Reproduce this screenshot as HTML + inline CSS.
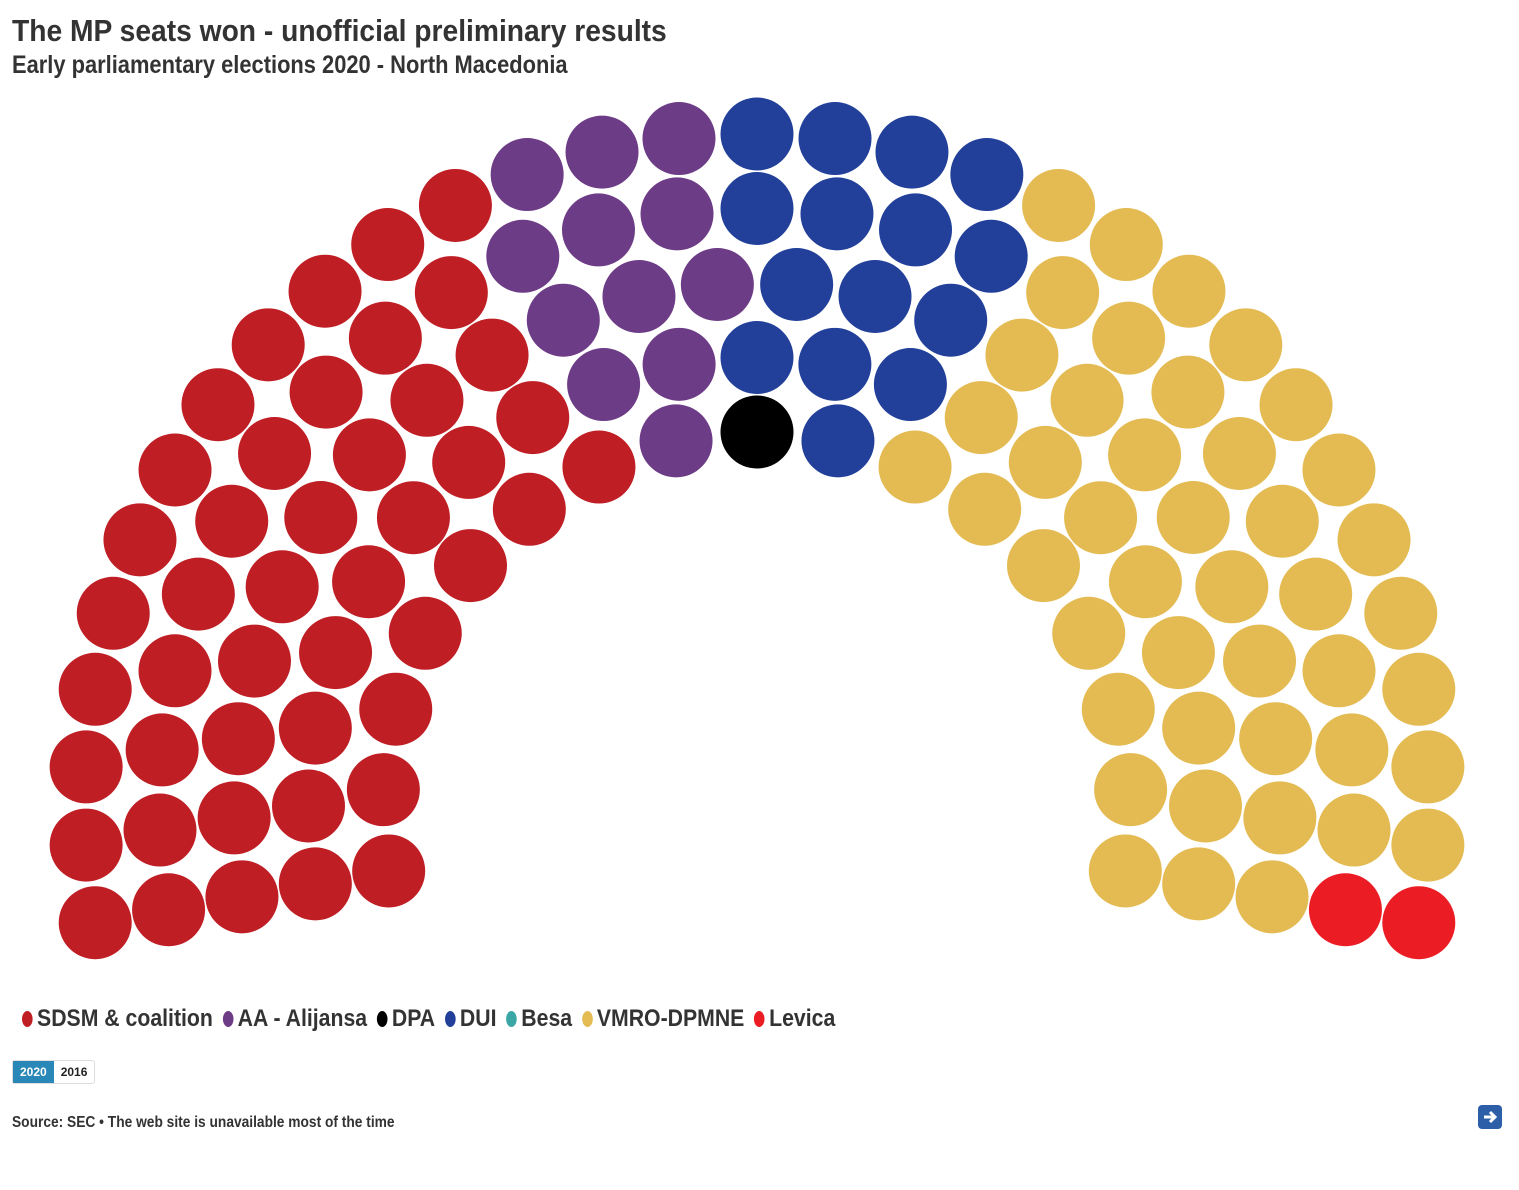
<!DOCTYPE html>
<html><head><meta charset="utf-8"><style>
body{margin:0;width:1519px;height:1190px;background:#fff;font-family:"Liberation Sans",sans-serif;color:#333;position:relative;overflow:hidden}
.n{position:absolute;white-space:nowrap;transform-origin:0 0;font-weight:bold}
.t{left:12px;top:13px;font-size:31px;transform:scaleX(0.91)}
.s{left:12px;top:51px;font-size:25px;transform:scaleX(0.875)}
.lg{left:22px;top:1005px;font-size:24px;display:flex;transform:scaleX(0.885)}
.lg span{margin-right:11px;display:flex;align-items:center}
.lg i{display:inline-block;width:12px;height:16px;border-radius:50%;margin-right:5px}
.btns{position:absolute;left:12px;top:1060px;display:flex;border:1px solid #ddd;border-radius:3px;font-size:12px;font-weight:bold}
.btns div{padding:4px 7px}
.src{left:12px;top:1114px;font-size:16px;transform:scaleX(0.86)}
</style></head><body>
<div class="n t">The MP seats won - unofficial preliminary results</div>
<div class="n s">Early parliamentary elections 2020 - North Macedonia</div>
<svg id="ch" width="1519" height="1190" style="position:absolute;left:0;top:0"></svg>
<div class="n lg">
<span><i style="background:#bf1e24"></i>SDSM &amp; coalition</span>
<span><i style="background:#6d3c86"></i>AA - Alijansa</span>
<span><i style="background:#000"></i>DPA</span>
<span><i style="background:#22409a"></i>DUI</span>
<span><i style="background:#3ba6a6"></i>Besa</span>
<span><i style="background:#e4bb53"></i>VMRO-DPMNE</span>
<span><i style="background:#ec1c24"></i>Levica</span>
</div>
<div class="btns">
<div style="background:#2a88b8;color:#fff">2020</div>
<div style="color:#222">2016</div>
</div>
<div class="n src">Source: SEC • The web site is unavailable most of the time</div>
<svg style="position:absolute;left:1477px;top:1104px" width="26" height="26"><rect x="1" y="1" width="24" height="24" rx="4" fill="#2d5fa8"/><path d="M7 13h10M13 8l5 5-5 5" stroke="#fff" stroke-width="3" fill="none"/></svg>
<script>
const parties=["SDSM","AA","DPA","DUI","Besa","VMRO","Levica"];
const seats=[46,12,1,15,0,44,2];
const colors=["#bf1e24","#6d3c86","#000000","#22409a","#3ba6a6","#e4bb53","#ec1c24"];
const rowCounts=[17,21,24,27,31];
const cx=757,cy=806,r0=374,dr=74.5,sr=36.5,ext=10*Math.PI/180;
const pos=[];
rowCounts.forEach((n,i)=>{const R=r0+dr*i;for(let k=0;k<n;k++){const a=Math.PI+ext-k*(Math.PI+2*ext)/(n-1);pos.push({a:a,row:i,x:cx+R*Math.cos(a),y:cy-R*Math.sin(a)});}});
pos.sort((p,q)=>Math.abs(q.a-p.a)<1e-9?p.row-q.row:q.a-p.a);
const svg=document.getElementById('ch');let idx=0;
seats.forEach((n,pi)=>{for(let j=0;j<n;j++){const p=pos[idx++];const c=document.createElementNS('http://www.w3.org/2000/svg','circle');
c.setAttribute('cx',p.x);c.setAttribute('cy',p.y);c.setAttribute('r',sr);c.setAttribute('fill',colors[pi]);


svg.appendChild(c);}});
</script>
</body></html>
